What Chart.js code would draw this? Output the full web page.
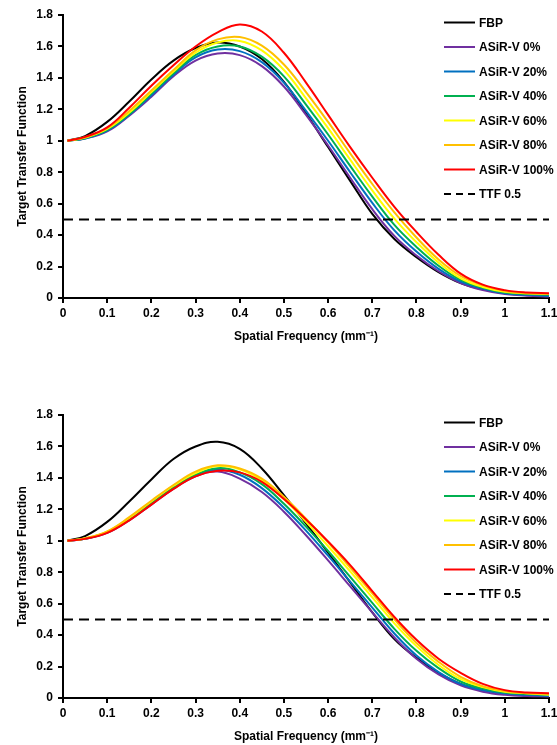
<!DOCTYPE html>
<html lang="en">
<head>
    <meta charset="UTF-8">
    <title>Target Transfer Function: FBP vs ASiR-V</title>
    <script src="https://cdn.jsdelivr.net/npm/chart.js"></script>
    <style>
        html, body {
            margin: 0;
            padding: 0;
            background: #ffffff;
            overflow: hidden;
        }

        .panel {
            position: absolute;
            left: 0;
        }

        #topPanel { top: 0; }
        #bottomPanel { top: 400px; }
    </style>
</head>
<body>
    <div class="panel" id="topPanel"><canvas id="ttf_top" width="557" height="346"></canvas></div>
    <div class="panel" id="bottomPanel"><canvas id="ttf_bottom" width="557" height="346"></canvas></div>

    <script>
        // spatial frequency samples (mm^-1)
        const freq = [0.01, 0.05, 0.1, 0.15, 0.2, 0.25, 0.3, 0.35, 0.4, 0.45, 0.5, 0.55,
                      0.6, 0.65, 0.7, 0.75, 0.8, 0.85, 0.9, 0.95, 1.0, 1.05, 1.1];

        // top panel
        const fbpTop     = [1.00, 1.03, 1.12, 1.25, 1.39, 1.51, 1.59, 1.625, 1.60, 1.52, 1.375, 1.175,
                            0.96, 0.745, 0.535, 0.375, 0.26, 0.165, 0.095, 0.055, 0.03, 0.02, 0.015];
        const asir0Top   = [1.00, 1.015, 1.06, 1.16, 1.28, 1.41, 1.51, 1.555, 1.545, 1.475, 1.345, 1.165,
                            0.97, 0.765, 0.565, 0.395, 0.27, 0.17, 0.095, 0.05, 0.025, 0.015, 0.01];
        const asir20Top  = [1.00, 1.015, 1.065, 1.165, 1.29, 1.42, 1.53, 1.58, 1.57, 1.50, 1.37, 1.19,
                            1.00, 0.80, 0.605, 0.43, 0.295, 0.185, 0.105, 0.06, 0.03, 0.02, 0.015];
        const asir40Top  = [1.00, 1.018, 1.07, 1.17, 1.30, 1.43, 1.545, 1.60, 1.60, 1.535, 1.41, 1.23,
                            1.04, 0.84, 0.645, 0.465, 0.325, 0.205, 0.115, 0.065, 0.035, 0.025, 0.02];
        const asir60Top  = [1.00, 1.02, 1.075, 1.18, 1.31, 1.44, 1.56, 1.625, 1.635, 1.575, 1.45, 1.27,
                            1.08, 0.88, 0.685, 0.505, 0.355, 0.225, 0.125, 0.07, 0.04, 0.03, 0.025];
        const asir80Top  = [1.00, 1.022, 1.08, 1.19, 1.32, 1.45, 1.575, 1.645, 1.66, 1.605, 1.485, 1.31,
                            1.12, 0.92, 0.725, 0.545, 0.385, 0.245, 0.14, 0.08, 0.045, 0.03, 0.025];
        const asir100Top = [1.00, 1.025, 1.085, 1.21, 1.35, 1.48, 1.60, 1.69, 1.74, 1.695, 1.56, 1.37,
                            1.165, 0.96, 0.765, 0.58, 0.42, 0.275, 0.155, 0.085, 0.05, 0.035, 0.03];

        // bottom panel
        const fbpBottom     = [1.00, 1.03, 1.12, 1.25, 1.39, 1.52, 1.60, 1.63, 1.585, 1.46, 1.29, 1.11,
                               0.925, 0.735, 0.545, 0.375, 0.255, 0.16, 0.09, 0.05, 0.03, 0.02, 0.015];
        const asir0Bottom   = [1.00, 1.012, 1.05, 1.13, 1.23, 1.33, 1.41, 1.44, 1.395, 1.31, 1.185, 1.035,
                               0.875, 0.71, 0.545, 0.385, 0.25, 0.15, 0.08, 0.04, 0.02, 0.012, 0.01];
        const asir20Bottom  = [1.00, 1.013, 1.053, 1.135, 1.235, 1.335, 1.415, 1.452, 1.42, 1.335, 1.21, 1.065,
                               0.905, 0.74, 0.575, 0.41, 0.27, 0.165, 0.09, 0.05, 0.03, 0.02, 0.015];
        const asir40Bottom  = [1.00, 1.014, 1.055, 1.14, 1.24, 1.34, 1.42, 1.462, 1.435, 1.36, 1.235, 1.09,
                               0.935, 0.77, 0.605, 0.44, 0.30, 0.19, 0.105, 0.06, 0.035, 0.025, 0.02];
        const asir60Bottom  = [1.00, 1.015, 1.058, 1.145, 1.25, 1.35, 1.43, 1.475, 1.455, 1.385, 1.265, 1.12,
                               0.965, 0.805, 0.64, 0.475, 0.33, 0.21, 0.12, 0.07, 0.04, 0.03, 0.02];
        const asir80Bottom  = [1.00, 1.016, 1.06, 1.15, 1.255, 1.355, 1.44, 1.48, 1.46, 1.395, 1.28, 1.14,
                               0.99, 0.83, 0.665, 0.50, 0.35, 0.23, 0.135, 0.075, 0.045, 0.03, 0.025];
        const asir100Bottom = [1.00, 1.012, 1.05, 1.13, 1.23, 1.33, 1.41, 1.445, 1.435, 1.375, 1.265, 1.135,
                               0.995, 0.845, 0.68, 0.515, 0.37, 0.25, 0.16, 0.09, 0.05, 0.035, 0.03];

        const ttfLevel = 0.5;
        const ttfRange = [0, 1.1];

        const seriesLabels = ['FBP', 'ASiR-V 0%', 'ASiR-V 20%', 'ASiR-V 40%', 'ASiR-V 60%', 'ASiR-V 80%', 'ASiR-V 100%'];
        const seriesColors = ['#000000', '#7030A0', '#0070C0', '#00B050', '#FFFF00', '#FFC000', '#FF0000'];

        Chart.defaults.font.family = '"Liberation Sans", Arial, sans-serif';
        Chart.defaults.font.size = 12;
        Chart.defaults.font.weight = 'bold';
        Chart.defaults.color = '#000';

        // legend drawn inside the plot area, top right
        const insideLegend = {
            id: 'insideLegend',
            afterDraw(chart) {
                const ctx = chart.ctx;
                const area = chart.chartArea;
                ctx.save();
                ctx.font = 'bold 12px "Liberation Sans", Arial, sans-serif';
                ctx.textBaseline = 'middle';
                ctx.textAlign = 'left';
                chart.data.datasets.forEach((ds, i) => {
                    const y = area.top + 7.5 + i * 24.5;
                    const x0 = area.right - 105;
                    ctx.strokeStyle = ds.borderColor;
                    ctx.lineWidth = 2;
                    ctx.setLineDash(ds.borderDash ? [7, 5] : []);
                    ctx.beginPath();
                    ctx.moveTo(x0, y);
                    ctx.lineTo(x0 + 31, y);
                    ctx.stroke();
                    ctx.fillStyle = '#000';
                    ctx.fillText(ds.label, x0 + 35, y + 1);
                });
                ctx.restore();
            }
        };

        function toPoints(values) {
            return freq.map((f, i) => ({ x: f, y: values[i] }));
        }

        function buildDatasets(seriesList) {
            const n = seriesList.length + 1;
            const sets = seriesList.map((vals, i) => ({
                label: seriesLabels[i],
                data: toPoints(vals),
                borderColor: seriesColors[i],
                borderWidth: 2,
                pointRadius: 0,
                tension: 0.4,
                fill: false,
                order: n - i
            }));
            sets.push({
                label: 'TTF 0.5',
                data: ttfRange.map(x => ({ x: x, y: ttfLevel })),
                borderColor: '#000000',
                borderWidth: 2,
                borderDash: [10, 6],
                pointRadius: 0,
                fill: false,
                order: 0
            });
            return sets;
        }

        function makeChart(canvasId, seriesList) {
            const ctx = document.getElementById(canvasId).getContext('2d');
            return new Chart(ctx, {
                type: 'line',
                data: { datasets: buildDatasets(seriesList) },
                options: {
                    responsive: false,
                    animation: false,
                    layout: { padding: { top: 15, right: 8, left: 0, bottom: 0 } },
                    plugins: {
                        legend: { display: false },
                        tooltip: { enabled: false }
                    },
                    scales: {
                        x: {
                            type: 'linear',
                            min: 0,
                            max: 1.1,
                            ticks: {
                                stepSize: 0.1,
                                padding: 3,
                                maxRotation: 0,
                                autoSkip: false,
                                callback: v => String(Number(v.toFixed(2)))
                            },
                            grid: { drawOnChartArea: false, tickLength: 5, color: '#000', lineWidth: 2 },
                            border: { color: '#000', width: 2 },
                            title: {
                                display: true,
                                text: 'Spatial Frequency (mm\u207B\u00B9)',
                                padding: { top: 0, bottom: 2 }
                            },
                            afterFit: s => {
                                s.height = 48;
                                s.paddingLeft = 0;
                                s.paddingRight = 0;
                            }
                        },
                        y: {
                            min: 0,
                            max: 1.8,
                            ticks: {
                                stepSize: 0.2,
                                padding: 5,
                                callback: v => String(Number(v.toFixed(2)))
                            },
                            grid: { drawOnChartArea: false, tickLength: 5, color: '#000', lineWidth: 2 },
                            border: { color: '#000', width: 2 },
                            title: {
                                display: true,
                                text: 'Target Transfer Function',
                                padding: { top: 15, bottom: 0 }
                            },
                            afterFit: s => {
                                s.width = 63;
                                s.paddingTop = 0;
                                s.paddingBottom = 0;
                            }
                        }
                    }
                },
                plugins: [insideLegend]
            });
        }

        makeChart('ttf_top', [fbpTop, asir0Top, asir20Top, asir40Top, asir60Top, asir80Top, asir100Top]);
        makeChart('ttf_bottom', [fbpBottom, asir0Bottom, asir20Bottom, asir40Bottom, asir60Bottom, asir80Bottom, asir100Bottom]);
    </script>
</body>
</html>
